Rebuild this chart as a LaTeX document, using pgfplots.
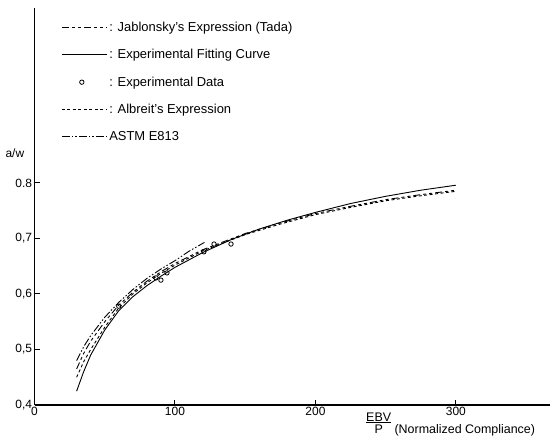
\documentclass[border=0pt]{standalone}
\usepackage{fontspec}
\setmainfont{Liberation Sans}
\usepackage{pgfplots}
\pgfplotsset{compat=1.18}
\pgfplotsset{
  lineleg/.style={legend image code/.code={\draw[##1] (0bp,0bp) -- (45bp,0bp);}},
  dataleg/.style={legend image code/.code={\draw[##1] plot coordinates {(20bp,0bp)};}},
}
\begin{document}
\begin{tikzpicture}
\useasboundingbox (-34.5bp,-32bp) rectangle (515.5bp,405bp);
\begin{axis}[
  at={(0,0)}, anchor=south west,
  scale only axis, width=515.5bp, height=397bp,
  xmin=0, xmax=367, ymin=0.4, ymax=1.1153,
  axis x line=bottom, axis y line=left,
  axis line style={-, line width=1.2bp},
  tick align=inside, major tick length=5bp,
  tick style={line width=1bp, black},
  xtick={0,100,200,300}, xticklabels={0,100,200,300},
  ytick={0.4,0.5,0.6,0.7,0.8}, yticklabels={{0,4},{0,5},{0,6},{0,7},{0.8}},
  ticklabel style={font=\fontsize{12}{14}\selectfont},
  xticklabel style={yshift=1bp},
  yticklabel style={xshift=1bp},
  clip=false,
  ylabel={a/w},
  ylabel style={rotate=-90, at={(axis cs:-14,0.854)}, anchor=center, font=\fontsize{12}{14}\selectfont},
  xlabel={\begin{tabular}[b]{@{}c@{}}EBV\\[-3pt]\hline\noalign{\vskip1pt}P\end{tabular} (Normalized Compliance)},
  xlabel style={at={(axis cs:236,0.4)}, anchor=base west, inner sep=0pt, yshift=-28.5bp, font=\fontsize{12.5}{14}\selectfont},
  legend cell align=left,
  legend style={draw=none, fill=none, at={(axis cs:19,1.094)}, anchor=north west,
    font=\fontsize{13}{15.6}\selectfont, row sep=12.5bp, inner sep=0pt},
  lineleg,
  every axis plot/.append style={line width=0.9bp, black},
]
% Jablonsky's Expression (Tada)
\addplot[dash pattern=on 7bp off 3bp on 3bp off 3bp on 3bp off 3bp] coordinates {
 (30,0.465) (35,0.493) (40,0.515) (50,0.550) (60,0.580) (70,0.603) (80,0.623) (90,0.640) (100,0.655)
 (120,0.680) (150,0.709) (175,0.728) (200,0.745) (225,0.758) (250,0.770) (275,0.779) (300,0.787)};
\addlegendentry{: Jablonsky's Expression (Tada)}
% Experimental fitting curve
\addplot[solid] coordinates {
 (30,0.425) (35,0.460) (40,0.490) (50,0.535) (60,0.570) (70,0.595) (80,0.615) (90,0.632) (100,0.648)
 (120,0.675) (140,0.698) (160,0.717) (180,0.733) (200,0.747) (225,0.763) (250,0.776) (275,0.787) (300,0.796)};
\addlegendentry{: Experimental Fitting Curve}
% Experimental data
\addplot[only marks, mark=o, mark size=2.2bp, line width=0.8bp, dataleg] coordinates {
 (60,0.578) (86.5,0.629) (90,0.625) (94.3,0.638) (120.6,0.676) (127.8,0.690) (139.9,0.690)};
\addlegendentry{: Experimental Data}
% Albreit's Expression
\addplot[dash pattern=on 3bp off 2.5bp] coordinates {
 (30,0.450) (35,0.478) (40,0.500) (50,0.540) (60,0.575) (70,0.600) (80,0.620) (90,0.637) (100,0.652)
 (120,0.678) (150,0.707) (175,0.726) (200,0.743) (225,0.756) (250,0.768) (275,0.777) (300,0.785)};
\addlegendentry{: Albreit's Expression}
% ASTM E813
\addplot[dash pattern=on 8bp off 2bp on 1.5bp off 2bp on 1.5bp off 2bp] coordinates {
 (30,0.480) (35,0.505) (40,0.525) (50,0.558) (60,0.585) (70,0.608) (80,0.628) (90,0.645) (100,0.660) (110,0.677) (121,0.693)};
\addlegendentry{ASTM E813}
\end{axis}
\end{tikzpicture}
\end{document}
